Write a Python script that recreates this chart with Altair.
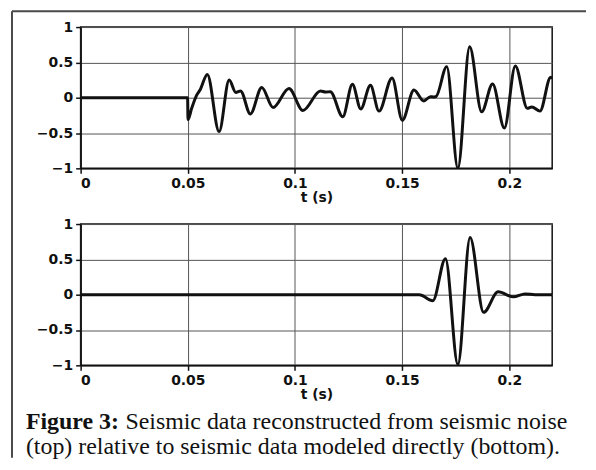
import altair as alt
import pandas as pd

# ---- data ----
top_t = [0, 0.0499, 0.0501, 0.0518, 0.0542, 0.0557, 0.0591, 0.0646, 0.0693, 0.0724,
         0.0746, 0.0792, 0.0845, 0.0898, 0.0972, 0.1037, 0.1119, 0.1142, 0.1165, 0.1223,
         0.1268, 0.1307, 0.1352, 0.1392, 0.1453, 0.1501, 0.1555, 0.1601, 0.1632, 0.1645,
         0.1659, 0.1708, 0.1760, 0.1815, 0.1871, 0.1922, 0.1977, 0.2028, 0.2084, 0.2105,
         0.2143, 0.2193, 0.22]
top_v = [0, 0, -0.31, -0.15, 0.04, 0.11, 0.33, -0.48, 0.25, 0.075,
         0.095, -0.23, 0.145, -0.14, 0.13, -0.18, 0.095, 0.08, 0.085, -0.27,
         0.19, -0.16, 0.175, -0.19, 0.28, -0.32, 0.11, -0.045, 0.015, 0.01,
         0.02, 0.44, -1.0, 0.72, -0.20, 0.195, -0.43, 0.45, -0.15, -0.13,
         -0.19, 0.29, 0.27]

bot_t = [0, 0.158, 0.1643, 0.1702, 0.1760, 0.1817, 0.1880, 0.1948, 0.2019, 0.2073, 0.212, 0.22]
bot_v = [0, 0, -0.085, 0.51, -0.99, 0.81, -0.25, 0.04, -0.03, 0.01, 0, 0]

x_ticks = [0, 0.05, 0.1, 0.15, 0.2]
y_ticks = [-1, -0.5, 0, 0.5, 1]
x_title = "t (s)"
caption_bold = ["Figure 3:"]
caption_line1 = ["Seismic data reconstructed from seismic noise"]
caption_line2 = ["(top) relative to seismic data modeled directly (bottom)."]

W, H = 474, 142
INK = "#111111"
PAD = {"left": 2, "top": 0, "right": 0, "bottom": 0}


def panel(t, v):
    df = pd.DataFrame({"t": t, "v": v})
    return alt.Chart(df).mark_line(
        interpolate="monotone", color=INK, strokeWidth=3, clip=True
    ).encode(
        x=alt.X("t:Q", scale=alt.Scale(domain=[0, 0.22], nice=False, zero=False),
                axis=alt.Axis(values=x_ticks, format="~g", title=x_title)),
        y=alt.Y("v:Q", scale=alt.Scale(domain=[-1, 1], nice=False),
                axis=alt.Axis(values=y_ticks, format="~g", title=None)),
    ).properties(width=W, height=H)


def rule(x, x2, y, y2):
    return alt.Chart(pd.DataFrame({"k": [0]})).mark_rule(
        color="#4a4a4a", strokeWidth=2
    ).encode(x=alt.value(x), x2=alt.value(x2), y=alt.value(y), y2=alt.value(y2))


def caption(text, x, y, weight):
    return alt.Chart(pd.DataFrame({"s": text})).mark_text(
        font="Liberation Serif", fontSize=24, fontWeight=weight,
        align="left", baseline="alphabetic", color=INK
    ).encode(text="s:N", x=alt.value(x), y=alt.value(y))


top = alt.layer(
    panel(top_t, top_v),
    rule(-69, 508, -16, -16),
    rule(-69, -69, -16, 433),
)

bottom = alt.layer(
    panel(bot_t, bot_v),
    caption(caption_bold, -55, 206, "bold"),
    caption(caption_line1, 45, 206, "normal"),
    caption(caption_line2, -55, 231, "normal"),
)

chart = alt.vconcat(top, bottom, spacing=56, bounds="flush").properties(
    padding=PAD,
    autosize=alt.AutoSizeParams(type="pad"),
).configure(
    padding=PAD,
).configure_view(
    stroke=INK, strokeWidth=1.5
).configure_axis(
    grid=True, gridColor="#555555", gridWidth=1,
    domainColor=INK, domainWidth=1.5,
    tickColor=INK, tickSize=5, tickWidth=1.5,
    labelFont="DejaVu Sans", labelFontWeight="bold", labelFontSize=14, labelColor=INK,
    titleFont="DejaVu Sans", titleFontWeight="bold", titleFontSize=14, titleColor=INK,
    labelPadding=3, titlePadding=0,
)

chart.save("out.html", embed_options={"renderer": "svg", "actions": False})
